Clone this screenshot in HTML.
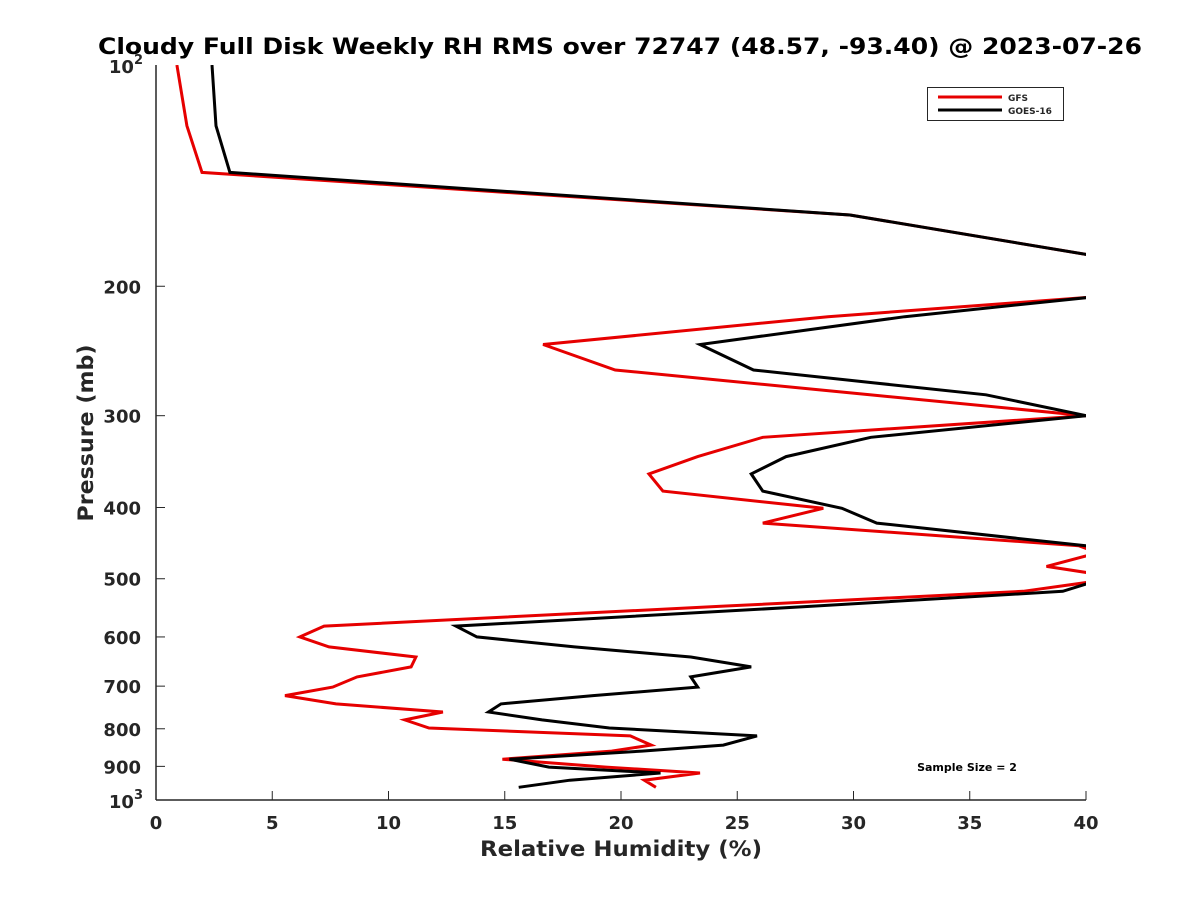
<!DOCTYPE html>
<html><head><meta charset="utf-8"><style>
body{margin:0;background:#fff;}
svg text{font-family:"DejaVu Sans","Liberation Sans",sans-serif;font-weight:bold;fill:#262626;}
</style></head><body>
<svg id="chart" width="1200" height="900" viewBox="0 0 1200 900" xmlns="http://www.w3.org/2000/svg">
<rect width="1200" height="900" fill="#fff"/>
<defs><clipPath id="clip"><rect x="156" y="65" width="930" height="735"/></clipPath></defs>
<text x="620" y="54" text-anchor="middle" font-size="22" textLength="1044" lengthAdjust="spacingAndGlyphs" style="fill:#000">Cloudy Full Disk Weekly RH RMS over 72747 (48.57, -93.40) @ 2023-07-26</text>
<g id="axes"></g>
<g id="series" clip-path="url(#clip)"></g>
<g>
<rect x="927.5" y="87.5" width="136" height="33" fill="#fff" stroke="#262626" stroke-width="1"/>
<line x1="938" y1="97" x2="1002" y2="97" stroke="#e60000" stroke-width="3"/>
<text x="1008" y="101" font-size="9">GFS</text>
<line x1="938" y1="110" x2="1002" y2="110" stroke="#000" stroke-width="3"/>
<text x="1008" y="114" font-size="9">GOES-16</text>
</g>
<text x="967" y="771" text-anchor="middle" font-size="11" style="fill:#000">Sample Size = 2</text>
<text x="621" y="856" text-anchor="middle" font-size="21" textLength="282" lengthAdjust="spacingAndGlyphs">Relative Humidity (%)</text>
<text transform="translate(93,433) rotate(-90)" text-anchor="middle" font-size="21" textLength="177" lengthAdjust="spacingAndGlyphs">Pressure (mb)</text>
</svg>
<script>
const pressures=[100,121,140,160,181,194,207,220,240,260,281,300,321,341,360,380,401,420,451,461,481,493,505,520,545,580,600,619,639,659,680,702,721,740,759,778,798,818,842,858,880,902,919,940,961];
const gfsRH=[0.9,1.33,1.98,29.85,40,44,40.2,28.9,16.65,19.75,30.7,40,26.1,23.3,21.2,21.8,28.7,26.1,39.7,40.5,38.3,40.5,40.2,37.3,24.3,7.23,6.19,7.44,11.18,10.97,8.65,7.6,5.55,7.74,12.34,10.7,11.74,20.4,21.3,19.6,14.9,19.35,23.4,21.0,21.5];
const goesRH=[2.41,2.58,3.18,29.85,40,44,40.2,32.2,23.4,25.7,35.7,40,30.75,27.1,25.6,26.1,29.5,31.0,40,41,40.5,40.2,40.3,39.0,28.2,12.9,13.8,18.0,23.0,25.6,23.0,23.3,18.8,14.84,14.3,16.6,19.5,25.85,24.4,20.9,15.2,16.9,21.7,17.8,15.6];
const xTicks=[0,5,10,15,20,25,30,35,40];
const yTicks=[200,300,400,500,600,700,800,900];
const X0=156,X1=1086,Y0=65,Y1=800;
function xs(v){return X0+(v/40)*(X1-X0);}
function ys(p){return Y0+(Math.log10(p)-2)*(Y1-Y0);}
const NS="http://www.w3.org/2000/svg";
const axes=document.getElementById('axes');
function mk(tag,attrs,parent){const e=document.createElementNS(NS,tag);for(const k in attrs)e.setAttribute(k,attrs[k]);parent.appendChild(e);return e;}
const yl=mk('line',{x1:X0,y1:Y0,x2:X0,y2:Y1,stroke:'#262626','stroke-width':1.5},axes);


const xl=mk('line',{x1:X0,y1:Y1,x2:X1,y2:Y1,stroke:'#262626','stroke-width':1.5},axes);


xTicks.forEach(v=>{
  const x=xs(v);
  mk('line',{x1:x,y1:Y1,x2:x,y2:Y1-9,stroke:'#262626','stroke-width':1},axes);
  const t=mk('text',{x:x,y:829,'text-anchor':'middle','font-size':18},axes);
  t.textContent=v;
  
  
});
yTicks.forEach(p=>{
  const y=ys(p);
  mk('line',{x1:X0,y1:y,x2:X0+9,y2:y,stroke:'#262626','stroke-width':1},axes);
  const t=mk('text',{x:141,y:y+7,'text-anchor':'end','font-size':18},axes);
  t.textContent=p;
  
  
});
[[100,'2',Y0],[1000,'3',Y1]].forEach(([p,e,y])=>{
  const t=mk('text',{x:143,y:y+8,'text-anchor':'end','font-size':18},axes);
  t.innerHTML='10<tspan dy="-9" font-size="13">'+e+'</tspan>';
  
  
});
const series=document.getElementById('series');
function drawLine(vals,color,name){
  const pts=vals.map((v,i)=>xs(v).toFixed(1)+','+ys(pressures[i]).toFixed(1)).join(' ');
  const pl=mk('polyline',{points:pts,fill:'none',stroke:color,'stroke-width':3,'stroke-linejoin':'miter'},series);
  
  
}
drawLine(gfsRH,'#e60000','gfs-line');
drawLine(goesRH,'#000','goes16-line');
</script>
</body></html>
